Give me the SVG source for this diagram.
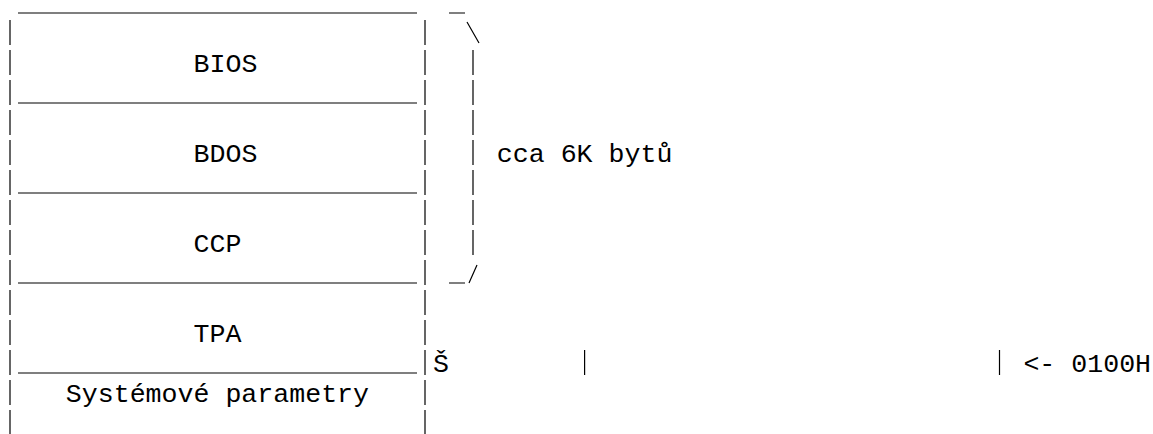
<svg xmlns="http://www.w3.org/2000/svg" width="1153" height="434" viewBox="0 0 1153 434">
  <style>
    .bg { fill: #ffffff; }
    .t { font-family: "Liberation Mono", "Courier New", "DejaVu Sans Mono", monospace; font-size: 26.6px; fill: #000000; }
    .h { stroke: #000000; stroke-width: 1.2; fill: none; }
    .v { stroke: #000000; stroke-width: 1.2; fill: none; stroke-dasharray: 25 5; }
  </style>
  <rect class="bg" x="0" y="0" width="1153" height="434"/>

  <g id="node-bios">
    <line class="h" x1="18" y1="13" x2="417" y2="13"/>
    <line class="v" x1="10" y1="20" x2="10" y2="105"/>
    <line class="v" x1="425" y1="20" x2="425" y2="105"/>
    <text class="t" x="193.5" y="72">BIOS</text>
    <line class="h" x1="18" y1="103" x2="417" y2="103"/>
  </g>

  <g id="node-bdos">
    <line class="v" x1="10" y1="110" x2="10" y2="195"/>
    <line class="v" x1="425" y1="110" x2="425" y2="195"/>
    <text class="t" x="193.5" y="162">BDOS</text>
    <line class="h" x1="18" y1="193" x2="417" y2="193"/>
  </g>

  <g id="node-ccp">
    <line class="v" x1="10" y1="200" x2="10" y2="285"/>
    <line class="v" x1="425" y1="200" x2="425" y2="285"/>
    <text class="t" x="193.5" y="252">CCP</text>
    <line class="h" x1="18" y1="283" x2="417" y2="283"/>
  </g>

  <g id="node-tpa">
    <line class="v" x1="10" y1="290" x2="10" y2="375"/>
    <line class="v" x1="425" y1="290" x2="425" y2="375"/>
    <text class="t" x="193.5" y="342">TPA</text>
    <line class="h" x1="18" y1="373" x2="417" y2="373"/>
  </g>

  <g id="node-sysparams">
    <line class="v" x1="10" y1="380" x2="10" y2="434"/>
    <line class="v" x1="425" y1="380" x2="425" y2="434"/>
    <text class="t" x="65.8" y="402">Systémové parametry</text>
  </g>

  <g id="connectors">
    <path class="h" d="M449,13 H465 M467,22 L479,43 M449,283 H465 M469,283 L477,265"/>
    <line class="v" x1="473" y1="50" x2="473" y2="255"/>
  </g>

  <g id="label-size">
    <text class="t" x="496.8" y="162">cca 6K bytů</text>
  </g>

  <g id="label-0100h">
    <text class="t" x="432.9" y="372">Š</text>
    <line class="h" x1="584.6" y1="350" x2="584.6" y2="375"/>
    <line class="h" x1="999.5" y1="350" x2="999.5" y2="375"/>
    <text class="t" x="1023.4" y="372">&lt;- 0100H</text>
  </g>
</svg>
